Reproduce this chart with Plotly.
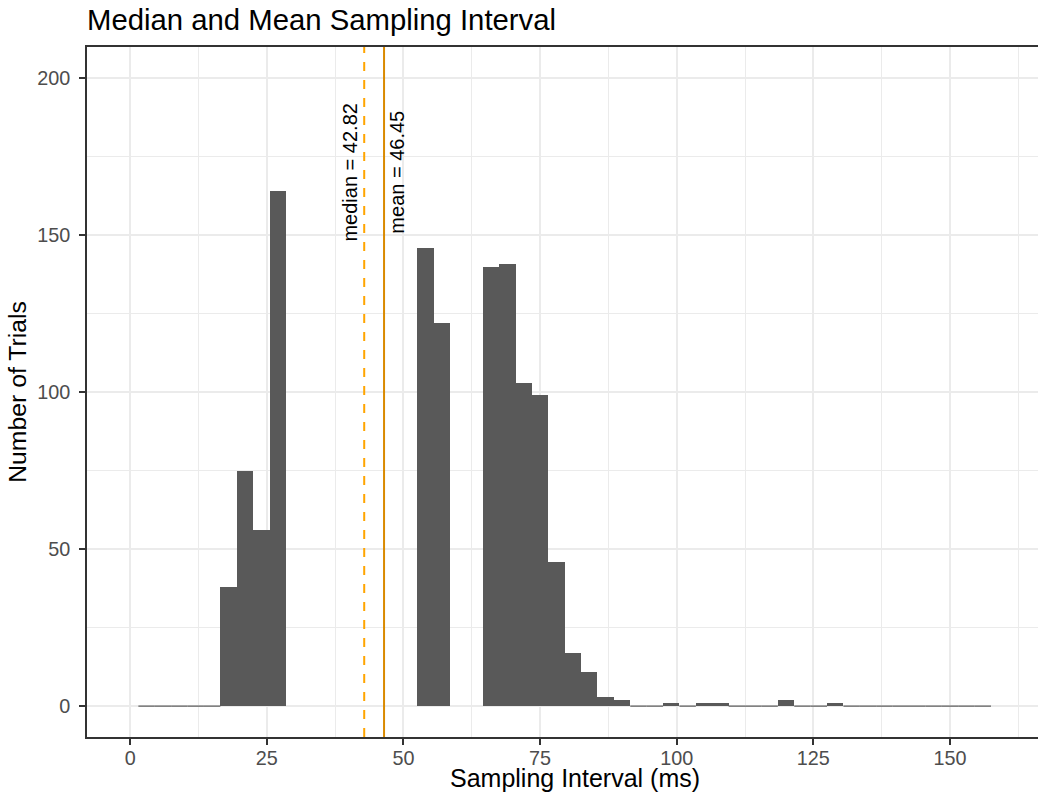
import plotly.graph_objects as go

# ---- data ----
bin_width = 3
bin_centers = [3 * k for k in range(1, 53)]  # 3, 6, ..., 156
# None = empty (no bar drawn, no baseline); 0 = zero-height bin (drawn as a flat line)
counts_by_center = {
    18: 38, 21: 75, 24: 56, 27: 164,
    54: 146, 57: 122,
    66: 140, 69: 141, 72: 103, 75: 99, 78: 46, 81: 17, 84: 11, 87: 3, 90: 2,
    99: 1, 105: 1, 108: 1, 120: 2, 129: 1,
}
empty_centers = list(range(30, 52, 3)) + [60, 63]
counts = [
    None if c in empty_centers else counts_by_center.get(c, 0)
    for c in bin_centers
]
median_val = 42.82
mean_val = 46.45

title_text = "Median and Mean Sampling Interval"
x_title = "Sampling Interval (ms)"
y_title = "Number of Trials"
x_ticks = [0, 25, 50, 75, 100, 125, 150]
y_ticks = [0, 50, 100, 150, 200]

# ---- styles ----
BAR = "#595959"
GRID = "#EBEBEB"
AXIS = "#333333"
TICKTXT = "#4D4D4D"
MED_COL = "#FFA500"
MEAN_COL = "#DA8A00"
FONT = "Liberation Sans, Arial, sans-serif"

W, H = 1038, 799
L, T, B, R = 87, 47, 62, 0
PW = W - L - R
PH = H - T - B

fig = go.Figure()

bar_x = [c for c, n in zip(bin_centers, counts) if n]
bar_y = [n for n in counts if n]
fig.add_trace(go.Bar(
    x=bar_x, y=bar_y, width=bin_width,
    marker=dict(color=BAR, line=dict(width=0)),
    showlegend=False, hoverinfo="x+y",
))

# zero-height bins drawn as a flat line at 0
zx, zy = [], []
for c, n in zip(bin_centers, counts):
    if n == 0:
        zx += [c - bin_width / 2, c + bin_width / 2, None]
        zy += [0, 0, None]
fig.add_trace(go.Scatter(
    x=zx, y=zy, mode="lines", line=dict(color=BAR, width=1.2),
    showlegend=False, hoverinfo="skip",
))

# vertical lines
fig.add_shape(type="line", xref="x", yref="paper", x0=median_val, x1=median_val,
              y0=0, y1=1, line=dict(color=MED_COL, width=2, dash="dash"))
fig.add_shape(type="line", xref="x", yref="paper", x0=mean_val, x1=mean_val,
              y0=0, y1=1, line=dict(color=MEAN_COL, width=2))

ann_y = 170
fig.add_annotation(x=median_val - 2.6, y=ann_y, xref="x", yref="y",
                   text=f"median = {median_val:.2f}", textangle=-90, showarrow=False,
                   font=dict(family=FONT, size=20, color="black"),
                   xanchor="center", yanchor="middle")
fig.add_annotation(x=mean_val + 2.2, y=ann_y, xref="x", yref="y",
                   text=f"mean = {mean_val:.2f}", textangle=-90, showarrow=False,
                   font=dict(family=FONT, size=20, color="black"),
                   xanchor="center", yanchor="middle")

# x-axis title (placed as annotation to match the reference's centring)
fig.add_annotation(x=(575 - L) / PW, xref="paper", y=-(793 - (H - B)) / PH, yref="paper",
                   text=x_title, showarrow=False, xanchor="center", yanchor="bottom",
                   borderpad=0,
                   font=dict(family=FONT, size=25, color="black"))

axis_common = dict(
    showgrid=True, gridcolor=GRID, gridwidth=1.6,
    zeroline=False, showline=True, linecolor=AXIS, linewidth=1.5,
    ticks="outside", ticklen=6, tickwidth=1.5, tickcolor=AXIS,
    tickfont=dict(family=FONT, size=19.8, color=TICKTXT),
)

fig.update_layout(
    width=W, height=H,
    margin=dict(l=L, r=R, t=T, b=B),
    paper_bgcolor="white", plot_bgcolor="white",
    bargap=0,
    font=dict(family=FONT),
    title=dict(text=title_text, x=L / W, xanchor="left", xref="container",
               y=1 - 20 / H, yanchor="middle", yref="container",
               font=dict(family=FONT, size=29.3, color="black")),
    xaxis=dict(
        range=[-7.9, 166.1], tickvals=x_ticks, ticktext=[str(v) for v in x_ticks],
        minor=dict(dtick=12.5, tick0=12.5, showgrid=True, gridcolor=GRID, gridwidth=0.9, ticks=""),
        mirror=True, ticklabelstandoff=-4,
        **axis_common,
    ),
    yaxis=dict(
        range=[-9.84, 210], tickvals=y_ticks, ticktext=[str(v) for v in y_ticks],
        minor=dict(dtick=25, tick0=25, showgrid=True, gridcolor=GRID, gridwidth=0.9, ticks=""),
        title=dict(text=y_title, font=dict(family=FONT, size=24.75, color="black"), standoff=4),
        mirror=False, ticklabelstandoff=5,
        **axis_common,
    ),
)

fig.write_html("out.html")
